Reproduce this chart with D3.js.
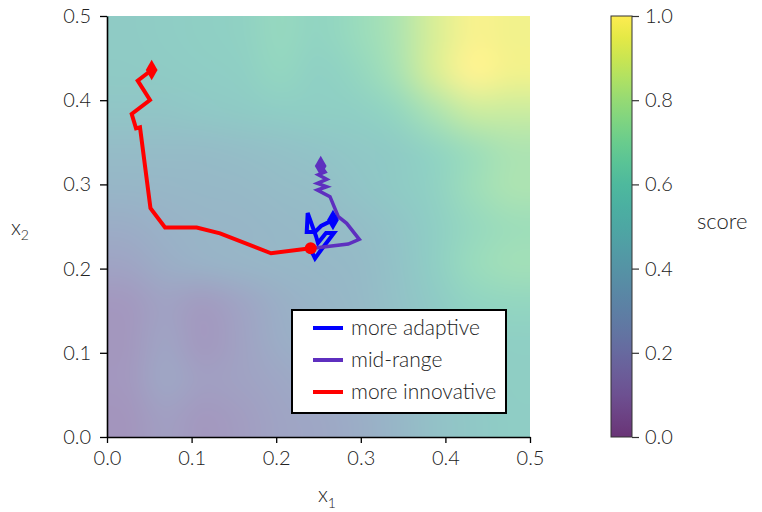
<!DOCTYPE html>
<html>
<head>
<meta charset="utf-8">
<script src="https://cdn.jsdelivr.net/npm/d3@7"></script>
<style>
  html, body { margin: 0; padding: 0; background: #fff; }
  svg { display: block; font-family: "Lato", "Open Sans", "DejaVu Sans", sans-serif; font-weight: 300; }
</style>
</head>
<body>
<svg id="chart" width="762" height="512"></svg>
<script>
// ---------------- data ----------------
const xTicks = [0.0, 0.1, 0.2, 0.3, 0.4, 0.5];
const yTicks = [0.0, 0.1, 0.2, 0.3, 0.4, 0.5];
const cbTicks = [0.0, 0.2, 0.4, 0.6, 0.8, 1.0];

// score field, rows from x2 = 0.5 (top) down to x2 = 0.0, columns x1 = 0.0 .. 0.5
const scoreGrid = [
  [0.53, 0.54, 0.56, 0.58, 0.64, 0.60, 0.66, 0.74, 0.88, 0.98, 0.96],
  [0.52, 0.53, 0.54, 0.56, 0.62, 0.57, 0.62, 0.72, 0.88, 1.00, 0.96],
  [0.48, 0.48, 0.50, 0.52, 0.54, 0.55, 0.56, 0.62, 0.74, 0.84, 0.84],
  [0.40, 0.40, 0.40, 0.42, 0.44, 0.47, 0.50, 0.53, 0.60, 0.68, 0.74],
  [0.35, 0.36, 0.37, 0.38, 0.40, 0.42, 0.47, 0.52, 0.58, 0.68, 0.74],
  [0.28, 0.32, 0.34, 0.35, 0.37, 0.39, 0.41, 0.47, 0.55, 0.64, 0.68],
  [0.22, 0.28, 0.32, 0.34, 0.36, 0.37, 0.39, 0.45, 0.55, 0.66, 0.70],
  [0.14, 0.20, 0.16, 0.22, 0.30, 0.34, 0.38, 0.44, 0.52, 0.60, 0.62],
  [0.13, 0.22, 0.14, 0.20, 0.28, 0.32, 0.36, 0.42, 0.50, 0.55, 0.56],
  [0.14, 0.24, 0.18, 0.20, 0.24, 0.28, 0.32, 0.38, 0.46, 0.52, 0.55],
  [0.12, 0.18, 0.14, 0.17, 0.22, 0.24, 0.28, 0.35, 0.44, 0.50, 0.54]
];

const seriesNames = ["more adaptive", "mid-range", "more innovative"];
const seriesColors = ["#0000ff", "#5e2fbf", "#ff0000"];

const adaptivePath = [
  [0.2400, 0.2241], [0.2459, 0.2122], [0.2530, 0.2221], [0.2683, 0.2423],
  [0.2589, 0.2423], [0.2494, 0.2304], [0.2470, 0.2387], [0.2372, 0.2660],
  [0.2361, 0.2435], [0.2459, 0.2435], [0.2530, 0.2506], [0.2671, 0.2577]
];
const midPath = [
  [0.2430, 0.2241], [0.2852, 0.2292], [0.2982, 0.2348], [0.2833, 0.2538],
  [0.2734, 0.2616], [0.2636, 0.2854], [0.2486, 0.2933], [0.2597, 0.2973],
  [0.2486, 0.3013], [0.2597, 0.3061], [0.2498, 0.3115], [0.2577, 0.3147],
  [0.2526, 0.3219]
];
const innovativePath = [
  [0.2408, 0.2241], [0.1939, 0.2182], [0.1336, 0.2419], [0.1060, 0.2488],
  [0.0686, 0.2488], [0.0514, 0.2716], [0.0390, 0.3678], [0.0343, 0.3666],
  [0.0292, 0.3836], [0.0508, 0.4002], [0.0363, 0.4232], [0.0528, 0.4359]
];

// ---------------- layout ----------------
const svg = d3.select("#chart");
const x = d3.scaleLinear().domain([0, 0.5]).range([107, 530]);
const y = d3.scaleLinear().domain([0, 0.5]).range([437, 16]);
const cb = d3.scaleLinear().domain([0, 1]).range([437, 16]);

function blend(v, a) {
  const c = d3.rgb(d3.interpolateViridis(v));
  return d3.rgb(c.r * a + 255 * (1 - a), c.g * a + 255 * (1 - a), c.b * a + 255 * (1 - a));
}

// ---------------- heatmap ----------------
const nr = scoreGrid.length, nc = scoreGrid[0].length;
const cv = document.createElement("canvas");
cv.width = nc; cv.height = nr;
const ctx = cv.getContext("2d");
const img = ctx.createImageData(nc, nr);
scoreGrid.forEach((row, i) => row.forEach((v, j) => {
  const c = blend(v, 0.5);
  const k = (i * nc + j) * 4;
  img.data[k] = Math.round(c.r); img.data[k + 1] = Math.round(c.g);
  img.data[k + 2] = Math.round(c.b); img.data[k + 3] = 255;
}));
ctx.putImageData(img, 0, 0);
const big = document.createElement("canvas");
const bw = x(0.5) - x(0), bh = y(0) - y(0.5);
big.width = Math.round(bw); big.height = Math.round(bh);
const bctx = big.getContext("2d");
bctx.imageSmoothingEnabled = true;
bctx.imageSmoothingQuality = "high";
bctx.drawImage(cv, 0, 0, big.width, big.height);

svg.append("image")
  .attr("x", x(0)).attr("y", y(0.5))
  .attr("width", bw).attr("height", bh)
  .attr("preserveAspectRatio", "none")
  .attr("href", big.toDataURL());

// ---------------- paths ----------------
const line = d3.line().x(d => x(d[0])).y(d => y(d[1]));
const paths = [
  { data: innovativePath, color: seriesColors[2], w: 4 },
  { data: adaptivePath, color: seriesColors[0], w: 4 },
  { data: midPath, color: seriesColors[1], w: 3.5 }
];
const gp = svg.append("g");
paths.forEach(p => {
  gp.append("path").attr("d", line(p.data))
    .attr("fill", "none").attr("stroke", p.color)
    .attr("stroke-width", p.w).attr("stroke-linejoin", "miter").attr("stroke-linecap", "square");
});
gp.append("circle")
  .attr("cx", x(innovativePath[0][0])).attr("cy", y(innovativePath[0][1]))
  .attr("r", 6).attr("fill", seriesColors[2]);
const diamond = d3.symbol().type(d3.symbolDiamond).size(120);
paths.forEach(p => {
  const e = p.data[p.data.length - 1];
  gp.append("path").attr("d", diamond())
    .attr("transform", `translate(${x(e[0])},${y(e[1])})`)
    .attr("fill", p.color);
});

// ---------------- axes ----------------
const fmt = d3.format(".1f");
const xAxis = svg.append("g").attr("transform", `translate(0,${y(0)})`)
  .call(d3.axisBottom(x).tickValues(xTicks).tickFormat(fmt).tickSize(6).tickPadding(8).tickSizeOuter(0));
const yAxis = svg.append("g").attr("transform", `translate(${x(0)},0)`)
  .call(d3.axisLeft(y).tickValues(yTicks).tickFormat(fmt).tickSize(7).tickPadding(9).tickSizeOuter(0));
[xAxis, yAxis].forEach(g => {
  g.select(".domain").attr("stroke", "#000").attr("stroke-width", 1.6);
  g.selectAll(".tick line").attr("stroke", "#000").attr("stroke-width", 1.3);
  g.selectAll(".tick text").attr("fill", "#222").style("font-size", "20px")
    .style("font-family", "Lato, 'Open Sans', sans-serif").style("font-weight", 300);
});

const xl = svg.append("text").attr("x", 318).attr("y", 502).attr("fill", "#222")
  .style("font-size", "21px");
xl.append("tspan").text("x");
xl.append("tspan").attr("dy", 6).style("font-size", "14px").text("1");

const yl = svg.append("text").attr("x", 11).attr("y", 235).attr("fill", "#222")
  .style("font-size", "21px");
yl.append("tspan").text("x");
yl.append("tspan").attr("dy", 5).style("font-size", "14px").text("2");

// ---------------- legend ----------------
const lg = svg.append("g");
lg.append("rect").attr("x", 292).attr("y", 310).attr("width", 214).attr("height", 103)
  .attr("fill", "#fff").attr("stroke", "#000").attr("stroke-width", 2);
seriesNames.forEach((name, i) => {
  const yy = 328 + i * 32;
  lg.append("line").attr("x1", 313).attr("x2", 343).attr("y1", yy).attr("y2", yy)
    .attr("stroke", seriesColors[i]).attr("stroke-width", 4);
  lg.append("text").attr("x", 351).attr("y", yy).attr("dy", "0.35em")
    .attr("fill", "#222").style("font-size", "21px").text(name);
});

// ---------------- colorbar ----------------
const defs = svg.append("defs");
const grad = defs.append("linearGradient").attr("id", "cbgrad")
  .attr("x1", 0).attr("y1", 1).attr("x2", 0).attr("y2", 0);
d3.range(0, 1.0001, 0.05).forEach(t => {
  grad.append("stop").attr("offset", t).attr("stop-color", blend(t, 0.8).formatHex());
});
svg.append("rect").attr("x", 611).attr("y", cb(1)).attr("width", 21).attr("height", cb(0) - cb(1))
  .attr("fill", "url(#cbgrad)").attr("stroke", "#333").attr("stroke-width", 1);
const cAxis = svg.append("g").attr("transform", "translate(632,0)")
  .call(d3.axisRight(cb).tickValues(cbTicks).tickFormat(fmt).tickSize(7).tickPadding(6).tickSizeOuter(0));
cAxis.select(".domain").remove();
cAxis.selectAll(".tick line").attr("stroke", "#333").attr("stroke-width", 1.2);
cAxis.selectAll(".tick text").attr("fill", "#222").style("font-size", "20px")
  .style("font-family", "Lato, 'Open Sans', sans-serif").style("font-weight", 300);

svg.append("text").attr("x", 697).attr("y", 221).attr("dy", "0.35em")
  .attr("fill", "#222").style("font-size", "22px").text("score");
</script>
</body>
</html>
